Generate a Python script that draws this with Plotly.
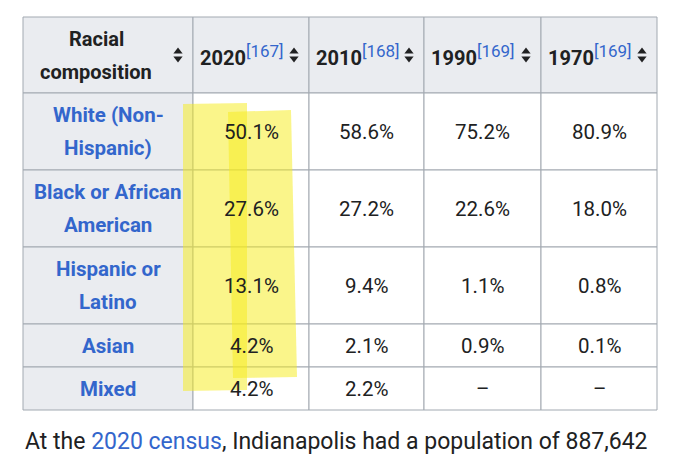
import plotly.graph_objects as go

# ---- data ----
categories = ["White (Non-<br>Hispanic)", "Black or African<br>American",
              "Hispanic or<br>Latino", "Asian", "Mixed"]
years = ["2020", "2010", "1990", "1970"]
year_refs = ["[167]", "[168]", "[169]", "[169]"]
v2020 = [50.1, 27.6, 13.1, 4.2, 4.2]
v2010 = [58.6, 27.2, 9.4, 2.1, 2.2]
v1990 = [75.2, 22.6, 1.1, 0.9, None]
v1970 = [80.9, 18.0, 0.8, 0.1, None]
header_first = "Racial<br>composition"
caption_link = "2020 census"
caption_text = ["At the ", ", Indianapolis had a population of 887,642"]

series = [v2020, v2010, v1990, v1970]

# ---- layout geometry ----
W, H = 680, 463
col_x = [23, 193, 309, 424, 541, 657]
row_y = [17, 93, 170, 247, 324, 367, 410]
LINE_GAP = 33

HEAD_BG = "#eaecf0"
BORDER = "#a2a9b1"
TEXT = "#202122"
LINK = "#3366cc"
FONT = "Roboto"

fig = go.Figure()
shapes = []
annotations = []

# cell backgrounds
for r in range(len(row_y) - 1):
    for c in range(len(col_x) - 1):
        bg = HEAD_BG if (r == 0 or c == 0) else "white"
        shapes.append(dict(type="rect", x0=col_x[c], x1=col_x[c + 1],
                           y0=row_y[r], y1=row_y[r + 1], fillcolor=bg,
                           line=dict(color=BORDER, width=1), layer="below"))


def add_lines(text, cx, cy, size, color, bold=False, xanchor="center"):
    lines = text.split("<br>")
    n = len(lines)
    for i, ln in enumerate(lines):
        y = cy + (i - (n - 1) / 2) * LINE_GAP
        t = f"<b>{ln}</b>" if bold else ln
        annotations.append(dict(x=cx, y=y, text=t, showarrow=False,
                                xanchor=xanchor, yanchor="middle",
                                font=dict(family=FONT, size=size, color=color)))


# header
hy = (row_y[0] + row_y[1]) / 2
add_lines(header_first, 96, hy, 20, TEXT, bold=True)
for j, (yr, ref) in enumerate(zip(years, year_refs)):
    annotations.append(dict(
        x=col_x[j + 1] + 5, y=hy, xanchor="left", yanchor="middle", showarrow=False,
        text=f"<b>{yr}</b><sup><span style='color:{LINK};font-size:17px'>{ref}</span></sup>",
        font=dict(family=FONT, size=20, color=TEXT)))

# sort icons
icon_x = [col_x[c + 1] - 15 for c in range(len(col_x) - 1)]
fig.add_trace(go.Scatter(x=icon_x, y=[hy - 3.5] * len(icon_x), mode="markers",
                         marker=dict(symbol="triangle-up", size=8, color=TEXT),
                         hoverinfo="skip", showlegend=False))
fig.add_trace(go.Scatter(x=icon_x, y=[hy + 3.5] * len(icon_x), mode="markers",
                         marker=dict(symbol="triangle-down", size=8, color=TEXT),
                         hoverinfo="skip", showlegend=False))

# body
for r, cat in enumerate(categories):
    cy = (row_y[r + 1] + row_y[r + 2]) / 2
    add_lines(cat, (col_x[0] + col_x[1]) / 2, cy, 20.5, LINK, bold=True)
    for j, s in enumerate(series):
        v = s[r]
        txt = "–" if v is None else f"{v:.1f}%"
        annotations.append(dict(x=(col_x[j + 1] + col_x[j + 2]) / 2, y=cy, text=txt,
                                showarrow=False, xanchor="center", yanchor="middle",
                                font=dict(family=FONT, size=20.5, color=TEXT)))

# highlighter strokes
HL = "rgba(246,236,30,0.52)"
shapes.append(dict(type="path", path="M 183 104 L 247 103 L 247 390 L 183 391 Z",
                   fillcolor=HL, line=dict(width=0), layer="above"))
shapes.append(dict(type="path", path="M 228 112 L 291 110 L 297 377 L 233 378 Z",
                   fillcolor=HL, line=dict(width=0), layer="above"))

# caption
annotations.append(dict(
    x=col_x[0], y=441, xanchor="left", yanchor="middle", showarrow=False,
    text=f"{caption_text[0]}<span style='color:{LINK}'>{caption_link}</span>{caption_text[1]}",
    font=dict(family=FONT, size=23, color=TEXT)))

fig.update_layout(
    width=W, height=H, margin=dict(l=0, r=0, t=0, b=0),
    paper_bgcolor="white", plot_bgcolor="white",
    xaxis=dict(range=[0, W], visible=False, fixedrange=True),
    yaxis=dict(range=[H, 0], visible=False, fixedrange=True),
    shapes=shapes, annotations=annotations, showlegend=False,
)
fig.write_html("out.html", config={"displayModeBar": False},
               post_script="document.body.style.margin='0px';")
